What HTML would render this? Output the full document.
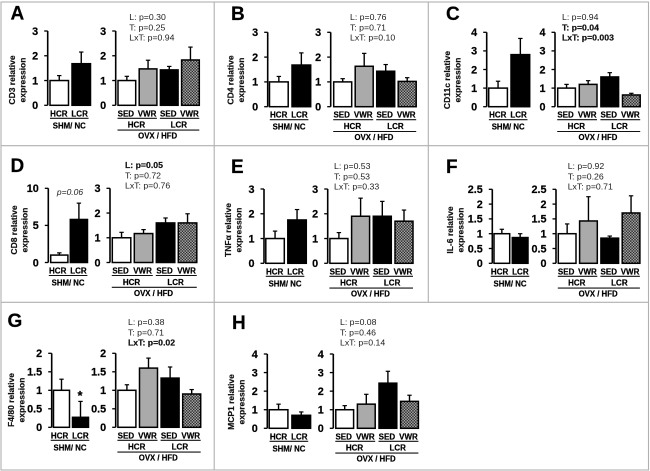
<!DOCTYPE html>
<html>
<head>
<meta charset="utf-8">
<title>Relative expression bar charts</title>
<style>
html,body{margin:0;padding:0;background:#fff;}
#figure{display:block;width:650px;height:471px;filter:blur(0.3px);}
text{font-family:"Liberation Sans",Arial,sans-serif;}
</style>
</head>
<body>
<svg id="figure" xmlns="http://www.w3.org/2000/svg" width="650" height="471" viewBox="0 0 650 471">
  <defs>
    <pattern id="hatch" patternUnits="userSpaceOnUse" width="2" height="2" patternTransform="rotate(45)">
      <rect width="2" height="2" fill="#6a6a6a"></rect>
      <rect width="1" height="1" fill="#111111"></rect>
      <rect x="1" y="1" width="1" height="1" fill="#c4c4c4"></rect>
    </pattern>
  </defs>
  <rect width="650" height="471" fill="#ffffff"></rect>
  <g stroke="#b0b0b0" stroke-width="1.1" fill="none">
    <rect x="1" y="2" width="647.5" height="468"></rect>
    <line x1="1" y1="145.7" x2="648.5" y2="145.7"></line>
    <line x1="1" y1="302.3" x2="648.5" y2="302.3"></line>
    <line x1="214.2" y1="2" x2="214.2" y2="470"></line>
    <line x1="428.3" y1="2" x2="428.3" y2="302.3"></line>
  </g>
  <g id="charts"></g>
</svg>
<script>
// Tick labels
var ticks3 = [0, 1, 2, 3];
var ticks4 = [0, 1, 2, 3, 4];
var ticks10 = [0, 5, 10];
var ticks2_5 = [0, 0.5, 1, 1.5, 2, 2.5];
var ticks2 = [0, 0.5, 1, 1.5, 2];

// Categories
var shamCategories = ["HCR", "LCR"];
var ovxCategories = ["SED", "VWR", "SED", "VWR"];
var ovxGroups = ["HCR", "LCR"];
var shamTitle = "SHM/ NC";
var ovxTitle = "OVX / HFD";

// Series values and upper error-bar values
var aShamValues = [1, 1.68];
var aShamErrors = [1.2, 2.15];
var aOvxValues = [1, 1.47, 1.43, 1.83];
var aOvxErrors = [1.17, 1.82, 1.57, 2.35];

var bShamValues = [1, 1.68];
var bShamErrors = [1.22, 2.17];
var bOvxValues = [1, 1.63, 1.43, 1.02];
var bOvxErrors = [1.13, 2.15, 1.7, 1.17];

var cShamValues = [1, 2.8];
var cShamErrors = [1.37, 3.67];
var cOvxValues = [1, 1.2, 1.6, 0.63];
var cOvxErrors = [1.2, 1.4, 1.83, 0.72];

var dShamValues = [1, 5.8];
var dShamErrors = [1.3, 8];
var dOvxValues = [1, 1.17, 1.6, 1.6];
var dOvxErrors = [1.22, 1.33, 1.8, 1.97];

var eShamValues = [1, 1.75];
var eShamErrors = [1.3, 2.17];
var eOvxValues = [1, 1.9, 1.9, 1.7];
var eOvxErrors = [1.24, 2.63, 2.5, 2.15];

var fShamValues = [1, 0.87];
var fShamErrors = [1.15, 1];
var fOvxValues = [1, 1.43, 0.85, 1.7];
var fOvxErrors = [1.33, 2.25, 0.92, 2.28];

var gShamValues = [1, 0.27];
var gShamErrors = [1.3, 0.7];
var gOvxValues = [1, 1.6, 1.33, 0.9];
var gOvxErrors = [1.15, 1.87, 1.63, 1.02];

var hShamValues = [1, 0.7];
var hShamErrors = [1.3, 0.88];
var hOvxValues = [1, 1.3, 2.43, 1.45];
var hOvxErrors = [1.22, 1.83, 3.07, 1.78];

// Printed labels: [text, isBold]
var aStats = [["L: p=0.30", 0], ["T: p=0.25", 0], ["LxT: p=0.94", 0]];
var bStats = [["L: p=0.76", 0], ["T: p=0.71", 0], ["LxT: p=0.10", 0]];
var cStats = [["L: p=0.94", 0], ["T: p=0.04", 1], ["LxT: p=0.003", 1]];
var dStats = [["L: p=0.05", 1], ["T: p=0.72", 0], ["LxT: p=0.76", 0]];
var eStats = [["L: p=0.53", 0], ["T: p=0.53", 0], ["LxT: p=0.33", 0]];
var fStats = [["L: p=0.92", 0], ["T: p=0.26", 0], ["LxT: p=0.71", 0]];
var gStats = [["L: p=0.38", 0], ["T: p=0.71", 0], ["LxT: p=0.02", 1]];
var hStats = [["L: p=0.08", 0], ["T: p=0.46", 0], ["LxT: p=0.14", 0]];

var ovxFills = ["#ffffff", "#aaaaaa", "#000000", "url(#hatch)"];
var shamFills = ["#ffffff", "#000000"];

var panels = [
  {id:"a", letter:"A", gene:"CD3", sv:aShamValues, se:aShamErrors, ov:aOvxValues, oe:aOvxErrors, st:aStats, lt:ticks3, rt:ticks3,
   lx:47.7, rx:115.7, y0:105.3, top:31, ls:50, lstep:22, lw:18.5, rs:118, rstep:21.2, rw:17.7,
   letterX:10.5, letterY:19.5, statX:129.3, statY:20, tx:12, ty:80},
  {id:"b", letter:"B", gene:"CD4", sv:bShamValues, se:bShamErrors, ov:bOvxValues, oe:bOvxErrors, st:bStats, lt:ticks3, rt:ticks3,
   lx:267.7, rx:330.7, y0:106.7, top:32.3, ls:269.5, lstep:22.5, lw:18.7, rs:333.7, rstep:21.5, rw:18,
   letterX:231, letterY:20, statX:350, statY:20, tx:230.6, ty:80},
  {id:"c", letter:"C", gene:"CD11c", sv:cShamValues, se:cShamErrors, ov:cOvxValues, oe:cOvxErrors, st:cStats, lt:ticks4, rt:ticks4,
   lx:486.7, rx:555, y0:106.7, top:32.3, ls:488.7, lstep:22.3, lw:18.7, rs:557.7, rstep:21.6, rw:17.7,
   letterX:446, letterY:20, statX:562, statY:20, tx:447, ty:80},
  {id:"d", letter:"D", gene:"CD8", sv:dShamValues, se:dShamErrors, ov:dOvxValues, oe:dOvxErrors, st:dStats, lt:ticks10, rt:ticks3,
   lx:48.3, rx:110, y0:262.5, top:188.3, ls:50.7, lstep:19.6, lw:17.2, rs:112.3, rstep:22, rw:18.5,
   letterX:10.5, letterY:172, statX:125, statY:168, tx:14, ty:230, note:"p=0.06", noteX:70, noteY:195},
  {id:"e", letter:"E", gene:"TNF\u03b1", sv:eShamValues, se:eShamErrors, ov:eOvxValues, oe:eOvxErrors, st:eStats, lt:ticks3, rt:ticks3,
   lx:264, rx:327.7, y0:263.3, top:189, ls:265.8, lstep:22, lw:18.5, rs:329.9, rstep:21.7, rw:18,
   letterX:231, letterY:173, statX:334, statY:169, tx:228, ty:230},
  {id:"f", letter:"F", gene:"IL-6", sv:fShamValues, se:fShamErrors, ov:fOvxValues, oe:fOvxErrors, st:fStats, lt:ticks2_5, rt:ticks2_5,
   lx:492.3, rx:556, y0:263.3, top:189.3, ls:494, lstep:18.3, lw:15.7, rs:558.3, rstep:21.3, rw:17.7,
   letterX:446, letterY:173, statX:567.7, statY:169, tx:450, ty:230},
  {id:"g", letter:"G", gene:"F4/80", sv:gShamValues, se:gShamErrors, ov:gOvxValues, oe:gOvxErrors, st:gStats, lt:ticks2, rt:ticks2,
   lx:51.7, rx:115.7, y0:427.3, top:353.3, ls:53.5, lstep:19, lw:16, rs:117.9, rstep:21.6, rw:18,
   letterX:7.5, letterY:327, statX:128, statY:325, tx:11, ty:400, star:"*", starX:80, starY:400},
  {id:"h", letter:"H", gene:"MCP1", sv:hShamValues, se:hShamErrors, ov:hOvxValues, oe:hOvxErrors, st:hStats, lt:ticks4, rt:ticks4,
   lx:267.3, rx:333.3, y0:428.3, top:354, ls:269.2, lstep:22.7, lw:18.7, rs:335.8, rstep:21.6, rw:17.8,
   letterX:232, letterY:329, statX:340, statY:325, tx:231, ty:402}
];

var NS = "http://www.w3.org/2000/svg";
var root = document.getElementById("charts");

function shape(parent, tag, attrs) {
  var el = document.createElementNS(NS, tag);
  for (var k in attrs) el.setAttribute(k, attrs[k]);
  parent.appendChild(el);
  return el;
}
function label(parent, str, x, y, size, bold, anchor, fill) {
  var el = shape(parent, "text", {x:x, y:y, "font-size":size, "font-weight":bold ? "bold" : "normal",
    "text-anchor":anchor || "start", fill:fill || "#000"});
  if (bold) {
    el.setAttribute("stroke", fill || "#000");
    el.setAttribute("stroke-width", "0.2");
  }
  el.textContent = str;
  return el;
}
function yScale(p, ticks) {
  var max = ticks[ticks.length - 1];
  return function (v) { return p.y0 - (v / max) * (p.y0 - p.top); };
}
function drawAxis(g, p, x, ticks, scale, prefix) {
  var axis = shape(g, "line", {x1:x, y1:p.top, x2:x, y2:p.y0, stroke:"#000", "stroke-width":1.6});
  
  
  ticks.forEach(function (t) {
    var y = scale(t);
    var tick = shape(g, "line", {x1:x - 3.5, y1:y, x2:x, y2:y, stroke:"#000", "stroke-width":1.3});
    
    
    var tl = label(g, String(t), x - 9.5, y + 3.8, 10.8, true, "end", "#000");
    
    
  });
}
function drawBars(g, p, values, errors, fills, start, step, width, scale, prefix) {
  values.forEach(function (v, i) {
    var x = start + i * step;
    var cx = x + width / 2;
    var top = scale(v);
    var errY = scale(errors[i]);
    var err = shape(g, "line", {x1:cx, y1:top, x2:cx, y2:errY, stroke:"#000", "stroke-width":1.4});
    
    
    var cap = shape(g, "line", {x1:cx - 2.2, y1:errY, x2:cx + 2.2, y2:errY, stroke:"#000", "stroke-width":1.2});
    
    
    var bar = shape(g, "rect", {x:x, y:top, width:width, height:p.y0 - top, fill:fills[i], stroke:"#000", "stroke-width":1.5});
    
    
  });
}
function rule(g, x1, x2, y, name) {
  var r = shape(g, "line", {x1:x1, y1:y, x2:x2, y2:y, stroke:"#111", "stroke-width":1.1});
  
  
}

panels.forEach(function (p) {
  var g = shape(root, "g", {});
  
  

  var letter = label(g, p.letter, p.letterX, p.letterY, 19, true, "start", "#000");
  
  

  p.st.forEach(function (s, i) {
    var t = label(g, s[0], p.statX, p.statY + i * 10.3, 8.7, !!s[1], "start", s[1] ? "#111" : "#1c1c1c");
    
    
  });

  var t1 = label(g, p.gene + " relative", 0, 0, 8.5, true, "middle", "#111");
  t1.setAttribute("transform", "translate(" + (p.tx + 3) + "," + p.ty + ") rotate(-90)");
  
  
  var t2 = label(g, "expression", 0, 0, 8.5, true, "middle", "#111");
  t2.setAttribute("transform", "translate(" + (p.tx + 13.5) + "," + p.ty + ") rotate(-90)");
  
  

  var ls = yScale(p, p.lt);
  var rs = yScale(p, p.rt);
  drawBars(g, p, p.sv, p.se, shamFills, p.ls, p.lstep, p.lw, ls, "sham");
  drawBars(g, p, p.ov, p.oe, ovxFills, p.rs, p.rstep, p.rw, rs, "ovx");
  drawAxis(g, p, p.lx, p.lt, ls, "sham");
  drawAxis(g, p, p.rx, p.rt, rs, "ovx");

  var lEnd = p.ls + p.lstep + p.lw;
  var lMid = (p.ls + lEnd) / 2 - 1;
  shamCategories.forEach(function (c, i) {
    var l = label(g, c, lMid + (i - 0.5) * 20.8, p.y0 + 11, 8, true, "middle", "#000");
    
    
  });
  rule(g, lMid - 19.3, lMid + 19.3, p.y0 + 13, "sham-group-rule");
  var st = label(g, shamTitle, lMid, p.y0 + 23, 7.8, true, "middle", "#000");
  
  

  ovxCategories.forEach(function (c, i) {
    var l = label(g, c, p.rs + i * p.rstep + p.rw / 2 - 1, p.y0 + 11, 8, true, "middle", "#000");
    
    
  });
  ovxGroups.forEach(function (c, i) {
    var a = p.rs + i * 2 * p.rstep;
    var b = a + p.rstep + p.rw;
    rule(g, a - 0.5, b, p.y0 + 13, "ovx-subgroup-rule");
    var l = label(g, c, (a + b) / 2 - 1, p.y0 + 22.3, 8, true, "middle", "#000");
    
    
  });
  var rEnd = p.rs + 3 * p.rstep + p.rw;
  rule(g, p.rs - 0.5, rEnd, p.y0 + 24.8, "ovx-group-rule");
  var ot = label(g, ovxTitle, (p.rs + rEnd) / 2 - 1, p.y0 + 33.3, 7.8, true, "middle", "#000");
  
  

  if (p.note) {
    var n = label(g, p.note, p.noteX, p.noteY, 8.5, false, "middle", "#222");
    n.setAttribute("font-style", "italic");
    
    
  }
  if (p.star) {
    var s = label(g, p.star, p.starX, p.starY, 13, true, "middle", "#000");
    
    
  }
});
</script>
</body>
</html>
